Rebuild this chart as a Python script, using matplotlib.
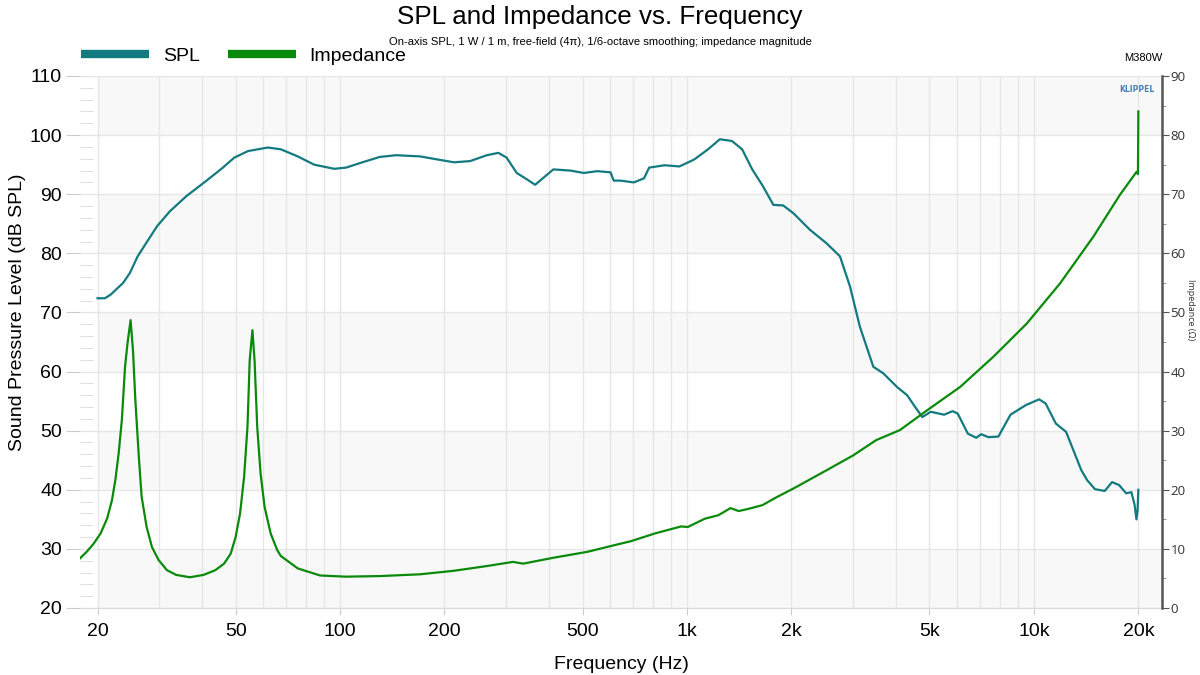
import matplotlib
matplotlib.use('Agg')
import matplotlib.pyplot as plt
from matplotlib.lines import Line2D
from matplotlib.ticker import FixedLocator, MultipleLocator, NullFormatter

plt.rcParams['font.family'] = ['Liberation Sans', 'DejaVu Sans']

# SPL curve (dB SPL)
spl_freq = [20, 21, 21.8, 23.7, 24.8, 26.1, 27.8, 29.7, 32.3, 36.1,
            40.4, 45.3, 49.6, 54.3, 61.9, 67.5, 75.5, 84.2, 96.3, 104,
            116, 130, 145, 170, 190, 213, 237, 265, 286, 302,
            323, 346, 365, 386, 412, 461, 504, 552, 602, 615,
            643, 703, 752, 778, 861, 951, 1051, 1150, 1244, 1348,
            1442, 1542, 1650, 1774, 1894, 2025, 2260, 2525, 2760, 2950,
            3150, 3445, 3680, 4030, 4310, 4610, 4770, 5040, 5510, 5830,
            6030, 6450, 6820, 7050, 7390, 7900, 8560, 9460, 10350, 10810,
            11570, 12380, 13700, 14250, 15000, 16000, 16800, 17600, 18450, 19100,
            19500, 19750, 19900, 20000]
spl_db = [72.4, 72.4, 73.0, 75.0, 76.7, 79.5, 82.0, 84.6, 87.1, 89.7,
          91.9, 94.2, 96.2, 97.3, 97.9, 97.6, 96.4, 95.0, 94.3, 94.5,
          95.4, 96.3, 96.6, 96.4, 95.9, 95.4, 95.6, 96.6, 97.0, 96.2,
          93.6, 92.5, 91.6, 92.8, 94.2, 94.0, 93.6, 93.9, 93.7, 92.3,
          92.3, 92.0, 92.7, 94.5, 94.9, 94.7, 95.9, 97.6, 99.3, 99.0,
          97.6, 94.2, 91.5, 88.2, 88.1, 86.8, 84.0, 81.7, 79.5, 74.4,
          67.6, 60.8, 59.7, 57.4, 56.0, 53.5, 52.3, 53.2, 52.7, 53.3,
          52.9, 49.5, 48.8, 49.4, 48.9, 49.0, 52.7, 54.3, 55.3, 54.6,
          51.2, 49.8, 43.3, 41.6, 40.1, 39.8, 41.3, 40.8, 39.4, 39.6,
          37.5, 35.0, 36.5, 40.0]

# impedance magnitude (ohm)
imp_freq = [17.8, 18.6, 19.5, 20.4, 21.3, 22.0, 22.5, 23.0, 23.5, 24.0,
            24.4, 24.9, 25.3, 25.7, 26.3, 26.8, 27.7, 28.7, 30.0, 31.7,
            33.7, 36.9, 40.4, 43.7, 46.3, 48.4, 50.0, 51.5, 52.9, 54.1,
            54.9, 55.9, 56.7, 57.7, 59.0, 60.6, 63.1, 65.9, 67.5, 75.5,
            87.6, 104, 130, 170, 213, 265, 315, 337, 412, 516,
            615, 689, 807, 962, 1005, 1125, 1232, 1335, 1410, 1510,
            1650, 1820, 2025, 2525, 3010, 3510, 4110, 4910, 6130, 7640,
            9530, 11890, 14830, 17700, 19770, 19950, 20000]
imp_ohm = [8.4, 9.5, 10.9, 12.6, 15.1, 18.2, 21.6, 26.1, 31.8, 40.8,
           44.8, 48.7, 43.6, 35.2, 25.6, 18.8, 13.7, 10.3, 8.1, 6.4,
           5.6, 5.2, 5.6, 6.4, 7.5, 9.2, 12.0, 16.0, 22.2, 30.7,
           41.9, 47.0, 41.9, 30.7, 22.8, 17.1, 12.6, 9.8, 8.8, 6.7,
           5.5, 5.3, 5.4, 5.7, 6.3, 7.1, 7.8, 7.5, 8.5, 9.5,
           10.6, 11.3, 12.6, 13.8, 13.7, 15.1, 15.7, 16.9, 16.4, 16.8,
           17.4, 18.8, 20.2, 23.3, 25.8, 28.4, 30.1, 33.4, 37.4, 42.5,
           48.1, 54.9, 62.8, 69.9, 73.8, 73.4, 84.0]

x_ticks = [20, 50, 100, 200, 500, 1000, 2000, 5000, 10000, 20000]
x_labels = ['20', '50', '100', '200', '500', '1k', '2k', '5k', '10k', '20k']
x_minor = [m * d for d in (10, 100, 1000, 10000) for m in range(1, 10)
           if 20 <= m * d <= 20000 and m * d not in x_ticks]

SPL_COLOR = '#137a80'
IMP_COLOR = '#0a8a0a'
GRID = '#e6e6e6'

fig = plt.figure(figsize=(12, 6.75), dpi=100)
ax = fig.add_axes([80 / 1200, 1 - 608 / 675, 1082 / 1200, 532 / 675])
ax2 = ax.twinx()

ax.set_xscale('log')
ax.set_xlim(17.8, 23400)
ax.set_ylim(20, 110)
ax2.set_ylim(0, 90)

# alternating shaded bands
for lo in range(20, 110, 20):
    ax.fill_between([20, 23400], lo, lo + 10, color='#f8f8f8', lw=0, zorder=0)

ax.set_xticks(x_ticks)
ax.set_xticklabels(x_labels)
ax.xaxis.set_minor_locator(FixedLocator(x_minor))
ax.xaxis.set_minor_formatter(NullFormatter())
ax.xaxis.grid(True, which='both', color=GRID, lw=1, zorder=0.5)
ax.yaxis.set_major_locator(MultipleLocator(10))
ax.yaxis.set_minor_locator(MultipleLocator(2))
ax.yaxis.grid(True, which='major', color=GRID, lw=1, zorder=0.5)
ax.set_axisbelow(True)

ax.tick_params(axis='x', which='major', length=5, color='#cccccc', labelsize=14, pad=6)
ax.tick_params(axis='x', which='minor', length=0)
ax.tick_params(axis='y', which='major', length=10, color='#cccccc', labelsize=14, pad=3)
ax.tick_params(axis='y', which='minor', direction='in', length=9, color='#d8d8d8')
for side in ('left', 'top', 'right'):
    ax.spines[side].set_visible(False)
ax.spines['bottom'].set_color('#dadada')

ax.plot(spl_freq, spl_db, color=SPL_COLOR, lw=1.6, zorder=3)
ax2.plot(imp_freq, imp_ohm, color=IMP_COLOR, lw=1.6, zorder=3)

ax2.yaxis.set_major_locator(MultipleLocator(10))
ax2.yaxis.set_minor_locator(MultipleLocator(5))
for side in ('left', 'top', 'bottom'):
    ax2.spines[side].set_visible(False)
ax2.spines['right'].set_color('#555555')
ax2.spines['right'].set_linewidth(1.8)
ax2.tick_params(axis='y', which='major', length=5, color='#555555', labelsize=9.5,
                labelcolor='#333333', pad=1)
ax2.tick_params(axis='y', which='minor', length=3, color='#888888')
for lab in ax2.get_yticklabels():
    lab.set_family(['Open Sans', 'DejaVu Sans'])

ax.set_xlabel('Frequency (Hz)', fontsize=14, labelpad=11)
fig.text(18 / 1200, 1 - 312 / 675, 'Sound Pressure Level (dB SPL)', rotation=90,
         fontsize=14, ha='center', va='center')
fig.text(1191 / 1200, 1 - 310 / 675, 'Impedance (Ω)', rotation=270, fontsize=6.5,
         ha='center', va='center', color='#333333', family=['Open Sans', 'DejaVu Sans'])

fig.text(0.5, 1 - 17 / 675, 'SPL and Impedance vs. Frequency', fontsize=18.7,
         ha='center', va='center')
fig.text(0.5, 1 - 42 / 675,
         'On-axis SPL, 1 W / 1 m, free-field (4π), 1/6-octave smoothing; impedance magnitude',
         fontsize=8.1, ha='center', va='center')
fig.text(1143 / 1200, 1 - 58 / 675, 'M380W', fontsize=8, ha='center', va='center')
fig.text(1137 / 1200, 1 - 90 / 675, 'KLIPPEL', fontsize=5.5, ha='center', va='center',
         color='#4a7fb0', weight='bold', family=['DejaVu Sans'])

handles = [Line2D([], [], color=SPL_COLOR, lw=6, solid_capstyle='butt'),
           Line2D([], [], color=IMP_COLOR, lw=6, solid_capstyle='butt')]
fig.legend(handles, ['SPL', 'Impedance'], loc='center left',
           bbox_to_anchor=(81 / 1200, 1 - 56 / 675), ncol=2, frameon=False,
           fontsize=14, handlelength=3.5, handletextpad=0.7, columnspacing=1.45,
           borderpad=0, borderaxespad=0)

fig.savefig('out.png', dpi=100)
